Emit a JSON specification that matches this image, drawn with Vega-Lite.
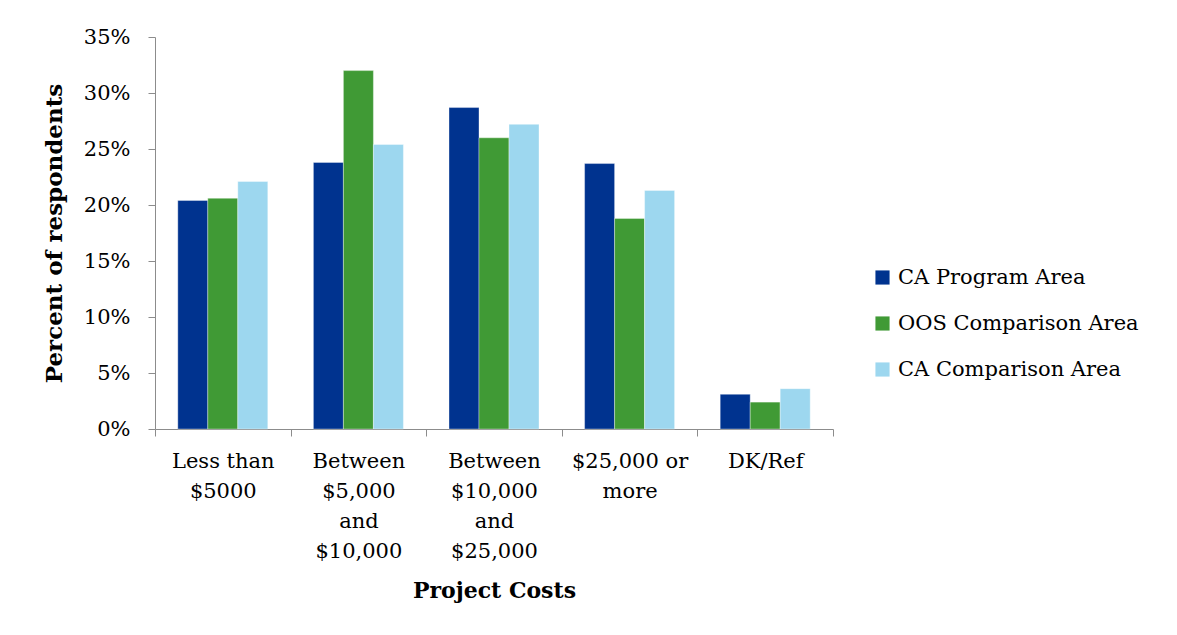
{
  "$schema": "https://vega.github.io/schema/vega-lite/v6.json",
  "width": 678,
  "height": 392,
  "autosize": "none",
  "padding": {"left": 155, "top": 37, "right": 344, "bottom": 206},
  "background": "white",
  "config": {
    "view": {"stroke": null},
    "font": "DejaVu Serif",
    "axis": {"domainColor": "#8c8c8c", "tickColor": "#8c8c8c", "labelColor": "#000000", "titleColor": "#000000", "grid": false}
  },
  "data": {
    "values": [
      {"cost": "Less than $5000", "area": "CA Program Area", "pct": 20.4},
      {"cost": "Less than $5000", "area": "OOS Comparison Area", "pct": 20.6},
      {"cost": "Less than $5000", "area": "CA Comparison Area", "pct": 22.1},
      {"cost": "Between $5,000 and $10,000", "area": "CA Program Area", "pct": 23.8},
      {"cost": "Between $5,000 and $10,000", "area": "OOS Comparison Area", "pct": 32.0},
      {"cost": "Between $5,000 and $10,000", "area": "CA Comparison Area", "pct": 25.4},
      {"cost": "Between $10,000 and $25,000", "area": "CA Program Area", "pct": 28.7},
      {"cost": "Between $10,000 and $25,000", "area": "OOS Comparison Area", "pct": 26.0},
      {"cost": "Between $10,000 and $25,000", "area": "CA Comparison Area", "pct": 27.2},
      {"cost": "$25,000 or more", "area": "CA Program Area", "pct": 23.7},
      {"cost": "$25,000 or more", "area": "OOS Comparison Area", "pct": 18.8},
      {"cost": "$25,000 or more", "area": "CA Comparison Area", "pct": 21.3},
      {"cost": "DK/Ref", "area": "CA Program Area", "pct": 3.1},
      {"cost": "DK/Ref", "area": "OOS Comparison Area", "pct": 2.4},
      {"cost": "DK/Ref", "area": "CA Comparison Area", "pct": 3.6}
    ]
  },
  "mark": {"type": "bar", "stroke": "#ffffff", "strokeWidth": 0.6, "strokeOpacity": 0.6},
  "encoding": {
    "x": {
      "field": "cost",
      "type": "nominal",
      "sort": ["Less than $5000", "Between $5,000 and $10,000", "Between $10,000 and $25,000", "$25,000 or more", "DK/Ref"],
      "scale": {"paddingInner": 0, "paddingOuter": 0},
      "axis": {
        "title": "Project Costs",
        "titleFontSize": 22,
        "titleFontWeight": "bold",
        "titlePadding": 19,
        "labelAngle": 0,
        "labelFontSize": 21,
        "labelLineHeight": 30,
        "labelPadding": 14,
        "tickSize": 7,
        "tickBand": "extent",
        "labelExpr": "datum.label == 'Less than $5000' ? ['Less than', '$5000'] : datum.label == 'Between $5,000 and $10,000' ? ['Between', '$5,000', 'and', '$10,000'] : datum.label == 'Between $10,000 and $25,000' ? ['Between', '$10,000', 'and', '$25,000'] : datum.label == '$25,000 or more' ? ['$25,000 or', 'more'] : datum.label"
      }
    },
    "xOffset": {
      "field": "area",
      "type": "nominal",
      "sort": ["CA Program Area", "OOS Comparison Area", "CA Comparison Area"],
      "scale": {"paddingInner": 0, "paddingOuter": 0.76}
    },
    "y": {
      "field": "pct",
      "type": "quantitative",
      "scale": {"domain": [0, 35], "nice": false},
      "axis": {
        "title": "Percent of respondents",
        "titleFontSize": 23,
        "titleFontWeight": "bold",
        "titlePadding": 17,
        "values": [0, 5, 10, 15, 20, 25, 30, 35],
        "labelExpr": "datum.value + '%'",
        "labelFontSize": 21,
        "labelPadding": 18,
        "tickSize": 7
      }
    },
    "color": {
      "field": "area",
      "type": "nominal",
      "scale": {
        "domain": ["CA Program Area", "OOS Comparison Area", "CA Comparison Area"],
        "range": ["#00338f", "#409a35", "#9dd7ef"]
      },
      "legend": {
        "title": null,
        "orient": "none",
        "legendX": 717,
        "legendY": 230,
        "padding": 0,
        "symbolType": "square",
        "symbolSize": 200,
        "symbolStrokeWidth": 0,
        "labelFontSize": 21,
        "labelColor": "#000000",
        "labelOffset": 5,
        "rowPadding": 24,
        "labelLimit": 400
      }
    }
  }
}
